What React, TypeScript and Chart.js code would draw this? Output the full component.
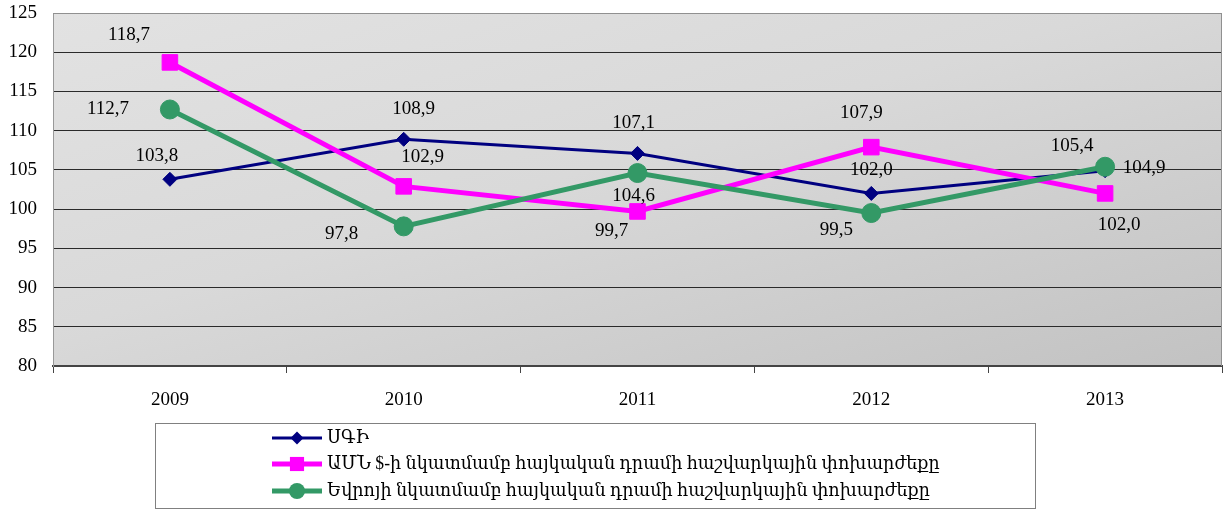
import React, { useEffect, useRef } from "react";
import { Chart, registerables } from "chart.js";

Chart.register(...registerables);

const categories = ["2009", "2010", "2011", "2012", "2013"];
const seriesNames = [
  "ՍԳԻ",
  "ԱՄՆ $-ի նկատմամբ հայկական դրամի հաշվարկային փոխարժեքը",
  "Եվրոյի նկատմամբ հայկական դրամի հաշվարկային փոխարժեքը",
];
const cpi = [103.8, 108.9, 107.1, 102.0, 104.9];
const usd = [118.7, 102.9, 99.7, 107.9, 102.0];
const eur = [112.7, 97.8, 104.6, 99.5, 105.4];
const yTicks = { min: 80, max: 125, step: 5 };

// label offsets (dx, dy) in px relative to each point
const labelOffsets = [
  [[-13, -23], [10, -30], [-4, -30], [0, -23], [39, -3]],
  [[-41, -27], [19, -29], [-26, 20], [-10, -34], [14, 32]],
  [[-62, 0], [-62, 8], [-4, 23], [-35, 17], [-33, -21]],
];

const colors = ["#000080", "#FF00FF", "#339966"];
const FONT = "'Liberation Serif', 'Times New Roman', 'DejaVu Serif', serif";

export default function App() {
  const ref = useRef<HTMLCanvasElement | null>(null);

  useEffect(() => {
    document.body.style.margin = "0";
    document.body.style.overflow = "hidden";
    const canvas = ref.current!;
    const fmt = (v: number) => v.toFixed(1).replace(".", ",");

    const bgPlugin = {
      id: "bg",
      beforeDraw(chart: any) {
        const { ctx, chartArea: a } = chart;
        ctx.save();
        ctx.translate(a.left, a.top);
        ctx.scale(a.right - a.left, a.bottom - a.top);
        const g = ctx.createLinearGradient(0, 0, 1, 1);
        g.addColorStop(0, "#e2e2e2");
        g.addColorStop(0.45, "#d9d9d9");
        g.addColorStop(1, "#c2c2c2");
        ctx.fillStyle = g;
        ctx.fillRect(0, 0, 1, 1);
        ctx.restore();
      },
      afterDraw(chart: any) {
        const { ctx, chartArea: a } = chart;
        ctx.save();
        ctx.strokeStyle = "#909090";
        ctx.lineWidth = 1;
        ctx.beginPath();
        ctx.moveTo(a.left, a.top + 0.5);
        ctx.lineTo(a.right - 0.5, a.top + 0.5);
        ctx.lineTo(a.right - 0.5, a.bottom);
        ctx.stroke();
        ctx.restore();
      },
    };

    const labelPlugin = {
      id: "vlabels",
      afterDatasetsDraw(chart: any) {
        const { ctx } = chart;
        ctx.save();
        ctx.font = `19px ${FONT}`;
        ctx.fillStyle = "#000";
        ctx.textAlign = "center";
        ctx.textBaseline = "middle";
        chart.data.datasets.forEach((ds: any, di: number) => {
          const meta = chart.getDatasetMeta(di);
          meta.data.forEach((pt: any, i: number) => {
            const [dx, dy] = labelOffsets[di][i];
            ctx.fillText(fmt(ds.data[i]), pt.x + dx, pt.y + dy);
          });
        });
        ctx.restore();
      },
    };

    const legendPlugin = {
      id: "customLegend",
      afterDraw(chart: any) {
        const { ctx } = chart;
        ctx.save();
        ctx.strokeStyle = "#808080";
        ctx.lineWidth = 1;
        ctx.strokeRect(155.5, 423.5, 880, 85);
        const rows = [438, 464, 491];
        const widths = [3, 5, 5];
        const styles = ["rectRot", "rect", "circle"];
        const radii = [6.5, 10, 8];
        chart.data.datasets.forEach((ds: any, i: number) => {
          const y = rows[i];
          ctx.strokeStyle = colors[i];
          ctx.lineWidth = widths[i];
          ctx.beginPath();
          ctx.moveTo(272, y);
          ctx.lineTo(322, y);
          ctx.stroke();
          ctx.fillStyle = colors[i];
          ctx.beginPath();
          const r = radii[i];
          if (styles[i] === "rectRot") {
            ctx.moveTo(297 - r, y); ctx.lineTo(297, y - r); ctx.lineTo(297 + r, y); ctx.lineTo(297, y + r);
          } else if (styles[i] === "rect") {
            const s = r * Math.SQRT1_2;
            ctx.rect(297 - s, y - s, 2 * s, 2 * s);
          } else {
            ctx.arc(297, y, r, 0, Math.PI * 2);
          }
          ctx.closePath();
          ctx.fill();
          ctx.fillStyle = "#000";
          ctx.font = `19px ${FONT}`;
          ctx.textAlign = "left";
          ctx.textBaseline = "middle";
          ctx.save();
          ctx.translate(327, y);
          ctx.scale(0.925, 1);
          ctx.fillText(ds.label, 0, 0);
          ctx.restore();
        });
        ctx.restore();
      },
    };

    const chart = new Chart(canvas, {
      type: "line",
      data: {
        labels: categories,
        datasets: [
          {
            label: seriesNames[0],
            data: cpi,
            borderColor: colors[0],
            backgroundColor: colors[0],
            borderWidth: 3,
            pointStyle: "rectRot",
            pointRadius: 7,
            pointBorderWidth: 1,
            order: 2,
          },
          {
            label: seriesNames[1],
            data: usd,
            borderColor: colors[1],
            backgroundColor: colors[1],
            borderWidth: 5,
            pointStyle: "rect",
            pointRadius: 11,
            pointBorderWidth: 1,
            order: 1,
          },
          {
            label: seriesNames[2],
            data: eur,
            borderColor: colors[2],
            backgroundColor: colors[2],
            borderWidth: 5,
            pointStyle: "circle",
            pointRadius: 9.5,
            pointBorderWidth: 1,
            order: 0,
          },
        ],
      },
      options: {
        responsive: false,
        animation: false,
        layout: { autoPadding: false, padding: { top: 13, right: 3, left: 0, bottom: 0 } },
        plugins: {
          legend: { display: false },
          tooltip: { enabled: false },
        },
        scales: {
          x: {
            offset: true,
            grid: {
              offset: true,
              drawOnChartArea: false,
              drawTicks: true,
              tickLength: 7,
              color: "#444",
            },
            border: { color: "#444", width: 2 },
            ticks: {
              font: { family: FONT, size: 19 },
              color: "#000",
              padding: 16,
            },
            afterFit(scale: any) {
              scale.height = 144;
              scale.paddingLeft = 0;
              scale.paddingRight = 0;
              scale.paddingTop = 0;
              scale.paddingBottom = 0;
            },
          },
          y: {
            min: yTicks.min,
            max: yTicks.max,
            ticks: {
              stepSize: yTicks.step,
              font: { family: FONT, size: 19 },
              color: "#000",
              padding: 16,
            },
            grid: {
              drawTicks: false,
              color: (c: any) => (c.tick && c.tick.value === yTicks.max ? "#909090" : "#2a2a2a"),
            },
            border: { color: "#999", width: 1 },
            afterFit(scale: any) {
              scale.width = 53;
              scale.paddingLeft = 0;
              scale.paddingRight = 0;
              scale.paddingTop = 0;
              scale.paddingBottom = 0;
            },
          },
        },
      },
      plugins: [bgPlugin, labelPlugin, legendPlugin],
    });

    return () => chart.destroy();
  }, []);

  return (
    <div style={{ width: 1225, height: 510 }}>
      <canvas ref={ref} width={1225} height={510} style={{ display: "block" }} />
    </div>
  );
}
